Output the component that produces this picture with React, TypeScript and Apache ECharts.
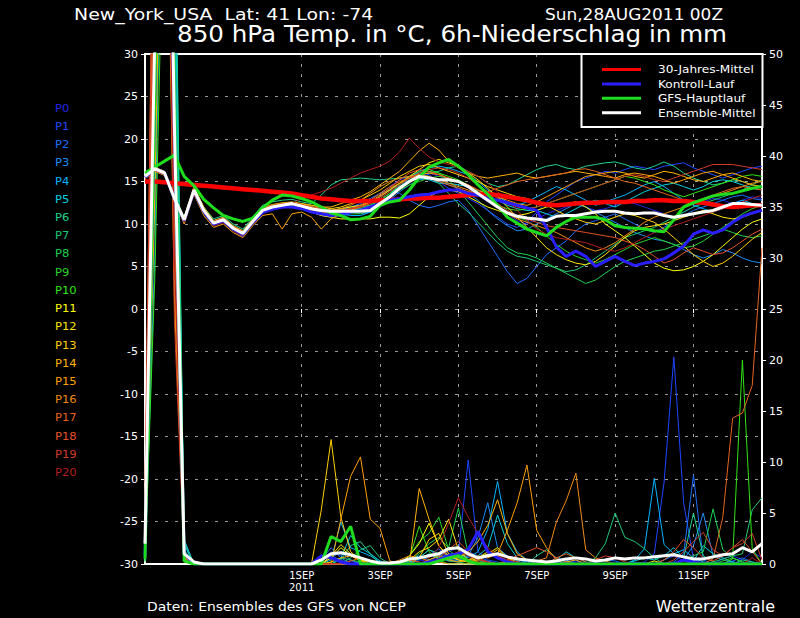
import React, { useEffect, useRef } from 'react';
import * as echarts from 'echarts';

// forecast hours (6-hourly), 28AUG2011 00Z = 0
const HOURS = [0,6,12,18,24,30,36,42,48,54,60,66,72,78,84,90,96,102,108,114,120,126,132,138,144,150,156,162,168,174,180,186,192,198,204,210,216,222,228,234,240,246,252,258,264,270,276,282,288,294,300,306,312,318,324,330,336,342,348,354,360,366,372,378];
const DATE_LABELS: Record<string, string> = { '96': '1SEP\n2011', '144': '3SEP', '192': '5SEP', '240': '7SEP', '288': '9SEP', '336': '11SEP' };

const MEMBER_NAMES = ['P0','P1','P2','P3','P4','P5','P6','P7','P8','P9','P10','P11','P12','P13','P14','P15','P16','P17','P18','P19','P20'];
const MEMBER_COLORS = ['#2424e6','#1e46ff','#1e6eff','#1e8cf5','#00b4ff','#00d2e0','#1ed28c','#1ec878','#1ed250','#2ad22a','#30e614','#ffff00','#ffe600','#ffd000','#ffb400','#ffa000','#f08c14','#e6641e','#e65028','#d23c28','#b41e1e'];

// 850 hPa temperature (°C), members
const T_P0 = [15.4,16.2,15.8,13.2,10.2,13.6,11.2,9.8,10.2,9.2,8.5,10.0,11.2,11.6,11.9,12.0, 11.8,11.4,11.0,10.8,10.9,11.2,11.6,12.4,13.2,14.0,14.6,15.2,15.8,16.0,15.6,15.4, 15.0,14.2,13.4,12.6,12.0,11.2,10.4,10.0,10.6,11.2,11.6,12.0,12.4,12.0,11.6,11.8, 12.2,12.6,12.4,12.0,11.6,11.2,10.8,11.4,12.0,12.6,13.0,12.8,12.4,12.8,13.2,13.0];
const T_P1 = [15.6,16.6,16.2,12.8,10.4,13.8,11.4,10.0,10.6,9.6,8.8,10.4,11.4,11.8,12.0,12.2, 12.0,11.6,11.2,11.0,11.4,11.8,12.2,12.8,13.6,14.4,15.2,15.6,16.0,15.8,15.0,14.2, 13.6,13.0,12.4,11.6,10.8,10.0,9.6,10.2,11.4,12.6,13.4,14.2,15.0,15.4,15.8,16.2, 16.0,16.4,16.8,16.6,16.4,16.8,17.0,17.2,16.6,16.2,15.8,15.4,15.8,16.2,16.6,16.8];
const T_P2 = [15.5,16.4,15.9,13.1,10.6,14.2,11.8,10.2,10.4,9.4,8.7,10.1,11.4,11.8,12.1,12.2, 12.0,11.6,11.2,11.2,11.6,12.0,12.4,13.0,13.6,14.0,13.6,12.8,12.2,11.9,12.2,12.6, 12.8,11.6,9.8,8.0,6.2,4.4,3.0,3.6,5.0,6.4,7.2,8.0,9.2,10.0,10.4,10.8, 11.2,10.6,10.0,9.4,9.0,9.6,10.4,11.0,11.6,12.0,12.4,12.8,13.2,13.4,13.0,12.8];
const T_P3 = [15.6,16.5,16.1,13.0,10.5,14.1,11.6,10.2,10.6,9.6,9.0,10.4,11.8,12.2,12.4,12.5, 12.4,12.0,11.8,11.6,11.6,11.4,11.2,11.4,12.0,12.8,13.8,14.6,15.2,15.4,15.0,14.6, 14.2,13.6,12.8,11.6,10.6,9.8,9.2,9.4,10.0,10.6,11.2,11.8,12.4,12.0,11.4,10.8, 10.2,9.6,9.0,8.6,8.2,8.0,7.6,7.0,6.4,6.0,6.4,7.0,6.6,6.0,5.6,5.4];
const T_P4 = [15.4,16.3,15.9,13.2,10.7,14.0,11.8,10.4,10.8,9.8,9.2,10.6,11.8,12.2,12.4,12.5, 12.2,11.8,11.6,11.4,11.2,11.0,11.0,11.4,12.2,13.4,14.6,15.4,16.2,16.6,16.8,16.6, 16.2,15.8,15.0,14.0,13.2,12.6,12.2,12.6,13.2,13.8,14.4,14.0,13.4,12.8,12.2,12.6, 13.0,13.4,14.0,14.6,15.0,14.4,13.6,12.8,12.2,11.8,11.4,11.8,12.4,12.8,12.4,12.0];
const T_P5 = [15.5,16.5,16.0,13.0,10.4,13.9,11.5,10.0,10.4,9.4,8.8,10.2,11.6,12.0,12.2,12.4, 12.2,11.8,11.4,11.2,11.4,11.6,11.8,12.2,12.8,13.6,14.4,15.0,15.4,15.2,14.8,14.8, 14.6,14.4,14.0,13.4,12.8,12.2,11.8,11.6,11.6,11.2,10.8,11.2,11.8,12.4,12.8,12.4, 12.0,12.6,13.2,13.8,14.2,14.6,14.8,14.4,14.0,14.4,15.0,15.2,15.0,14.6,14.2,14.0];
const T_P6 = [15.6,16.6,16.2,13.4,10.8,14.3,12.0,10.6,11.0,10.0,9.4,10.8,12.2,12.6,12.8,12.9, 12.6,12.4,13.4,14.6,15.2,15.3,15.4,15.3,15.2,15.3,15.4,15.6,15.8,16.0,16.2,16.6, 16.8,16.2,15.6,14.8,14.4,14.6,15.2,15.8,16.4,16.8,17.0,16.6,16.4,16.8,17.0,17.2, 17.3,17.0,16.6,16.4,16.8,17.3,16.8,16.0,15.4,15.0,14.6,14.8,15.2,15.0,14.6,14.4];
const T_P7 = [15.4,16.4,15.9,12.9,10.3,13.8,11.4,9.9,10.3,9.3,8.7,10.1,11.4,11.8,12.0,12.2, 12.0,11.6,11.4,11.2,11.4,11.6,11.8,12.0,12.6,13.4,14.4,15.2,15.8,15.6,14.8,13.6, 12.4,11.4,10.2,9.0,7.8,6.8,6.2,6.0,5.6,5.2,4.8,4.4,4.6,5.2,6.0,6.8, 7.6,8.4,8.8,9.2,9.6,10.2,10.8,11.4,12.0,12.4,12.8,13.2,13.6,14.0,14.6,15.2];
const T_P8 = [15.5,16.5,16.0,13.0,10.5,14.0,11.6,10.2,10.6,9.6,9.0,10.4,11.7,12.1,12.3,12.4, 12.2,11.9,11.7,11.6,11.8,12.0,12.2,12.6,13.2,14.0,14.8,15.6,16.2,16.4,16.0,15.2, 14.0,12.6,11.2,9.8,8.4,7.2,6.6,6.4,6.0,5.4,4.8,4.2,3.6,3.0,3.4,4.2, 5.0,5.6,6.0,6.4,6.8,7.0,7.4,7.8,8.2,8.6,9.0,9.4,9.0,8.6,8.4,8.6];
const T_P9 = [15.6,16.5,16.1,13.1,10.6,14.1,11.7,10.2,10.6,9.7,9.1,10.5,11.8,12.2,12.4,12.5, 12.3,12.0,11.8,11.6,11.4,11.2,11.2,11.6,12.4,13.2,14.0,14.6,15.0,15.4,15.6,15.4, 15.0,14.4,13.6,12.8,12.0,11.2,10.8,10.4,9.6,8.6,7.6,6.8,6.2,5.8,5.4,5.8, 6.4,7.0,7.6,8.0,8.4,8.0,7.6,7.2,7.4,8.0,8.8,9.6,10.4,11.2,11.8,12.2];
const T_P10 = [15.5,16.4,16.0,13.0,10.4,14.0,11.5,10.0,10.4,9.4,8.8,10.2,11.5,11.9,12.1,12.2, 12.0,11.8,11.6,11.4,11.6,11.8,12.0,12.2,12.8,13.6,14.6,15.4,16.0,16.2,16.0,15.6, 15.2,14.6,13.8,13.0,12.2,11.8,11.6,11.8,12.0,12.4,12.8,13.2,13.6,14.0,14.4,14.8, 15.2,15.6,15.4,15.0,14.6,14.0,13.6,13.2,13.6,14.0,14.4,14.8,15.2,15.6,15.8,15.6];
const T_P11 = [15.4,16.3,15.9,12.9,10.4,13.8,11.4,10.0,10.4,9.4,8.8,10.2,11.4,11.8,12.0,12.1, 11.9,11.4,11.0,10.8,10.6,10.6,10.6,10.6,10.8,10.8,10.7,11.2,12.2,13.2,13.8,14.0, 13.8,13.2,12.6,12.0,11.6,11.2,11.0,11.2,11.6,12.0,12.2,12.4,12.6,12.0,11.2,10.0, 9.2,8.4,7.4,6.4,5.4,4.8,4.5,4.6,5.0,5.6,6.4,7.4,8.4,9.4,10.2,10.6];
const T_P12 = [15.6,16.6,16.1,13.2,10.6,14.2,11.8,10.3,10.6,9.7,9.1,10.5,11.8,12.2,12.4,12.5, 12.3,12.0,11.8,11.6,11.8,12.0,12.2,12.6,13.2,14.0,14.8,15.6,16.4,17.2,17.6,17.2, 16.8,16.0,15.2,14.2,13.2,12.0,10.8,9.6,8.4,7.2,6.4,5.8,5.4,5.2,5.6,6.4, 7.4,8.4,9.2,9.6,9.8,10.0,10.4,10.8,11.2,11.6,11.2,10.8,10.6,10.8,11.2,11.6];
const T_P13 = [15.5,16.5,16.0,13.0,10.5,14.1,11.7,10.2,10.5,9.6,9.0,10.4,11.7,12.1,12.4,12.5, 12.4,12.2,12.0,11.8,12.0,12.4,12.8,13.4,14.0,14.8,15.6,16.2,16.8,17.0,16.6,16.2, 15.8,15.4,15.0,14.4,14.0,13.6,13.2,13.0,12.6,12.2,11.6,11.0,10.6,10.2,10.0,10.4, 10.8,11.2,11.0,10.6,10.2,9.4,8.4,7.4,6.4,5.6,5.0,5.4,6.2,7.2,8.2,9.0];
const T_P14 = [15.7,16.7,16.2,13.3,10.8,14.4,12.0,10.4,10.8,9.8,9.2,10.6,11.9,12.3,12.5,12.6, 12.4,12.2,12.0,12.0,12.4,12.8,13.2,13.8,14.6,15.4,16.2,17.4,18.6,19.5,18.7,17.4, 16.6,16.0,15.6,15.4,15.6,15.8,16.0,15.6,15.4,15.6,15.8,16.0,16.2,16.0,15.8,16.0, 16.2,16.0,15.6,15.4,15.8,16.2,16.0,15.6,15.2,15.0,15.4,15.8,16.0,15.6,15.2,15.0];
const T_P15 = [15.3,16.2,15.7,12.7,10.0,13.5,11.0,9.6,10.0,9.0,8.4,9.8,11.0,11.2,9.4,11.2, 11.4,10.8,9.4,10.6,11.2,11.6,12.0,12.6,13.4,14.2,14.8,15.4,15.8,16.0,15.8,15.4, 15.0,14.6,14.0,13.6,13.2,12.8,12.4,12.2,12.6,13.2,13.8,14.4,15.0,15.6,15.8,15.6, 15.4,15.8,16.0,15.8,15.6,15.2,14.8,15.2,15.6,16.0,16.2,15.8,15.4,15.0,14.6,14.4];
const T_P16 = [15.5,16.4,16.0,13.0,10.5,14.0,11.6,10.1,10.5,9.5,8.9,10.3,11.6,12.0,12.2,12.3, 12.2,12.0,11.8,11.6,11.8,12.2,12.8,13.6,14.4,15.0,15.4,15.6,15.8,15.6,15.2,14.8, 14.4,14.0,13.4,12.8,12.0,11.2,10.6,10.2,9.8,9.4,9.0,8.4,7.8,7.2,6.8,7.2, 7.8,8.6,9.4,10.2,10.8,11.2,11.6,12.0,12.4,12.8,13.2,13.6,14.0,14.4,14.8,15.0];
const T_P17 = [15.4,16.4,15.9,12.9,10.3,13.8,11.4,9.9,10.3,9.3,8.7,10.1,11.4,11.8,12.0,12.1, 11.9,11.6,11.4,11.2,11.4,11.8,12.2,12.8,13.6,14.4,15.0,15.4,15.6,15.4,15.0,14.6, 14.2,13.8,13.6,13.8,14.2,14.6,15.0,15.2,15.4,15.6,15.8,16.0,16.4,16.5,16.2,15.8, 15.4,15.0,14.8,14.4,14.0,13.6,13.2,12.8,12.6,13.0,13.4,13.8,14.2,14.4,14.2,14.0];
const T_P18 = [15.5,16.5,16.0,13.0,10.6,14.0,11.6,10.1,10.5,9.5,8.9,10.3,11.6,12.0,12.2,12.3, 12.1,11.8,11.6,11.4,11.6,11.8,12.0,12.4,13.2,14.2,15.2,16.0,16.4,16.2,15.8,15.4, 15.0,14.6,14.0,13.2,12.4,11.6,11.0,10.6,10.2,9.8,9.6,9.4,9.2,9.0,8.8,8.6, 8.4,8.0,7.6,7.0,6.2,5.4,5.8,6.6,7.2,6.8,6.4,6.6,7.2,8.0,8.8,9.4];
const T_P19 = [15.6,16.6,16.1,13.1,10.7,14.2,11.8,10.3,10.7,9.7,9.1,10.5,11.8,12.2,12.4,12.5, 12.3,12.0,11.8,11.6,11.6,11.8,12.0,12.4,13.0,13.8,14.6,15.4,16.0,16.4,16.6,16.4, 16.0,15.4,14.6,13.8,13.0,12.4,12.0,11.8,12.0,12.4,12.8,13.2,13.6,14.0,14.4,14.8, 15.2,15.6,15.8,15.6,15.2,15.0,15.4,15.8,16.2,16.6,17.0,17.0,17.0,16.8,16.6,16.4];
const T_P20 = [15.4,16.3,15.8,12.9,10.2,13.7,11.3,9.8,10.2,9.2,8.6,10.0,11.3,11.7,12.0,12.4, 13.0,13.4,13.8,14.2,14.8,15.4,16.0,16.4,16.8,17.4,18.5,20.1,18.9,17.9,17.3,17.0, 16.7,16.2,15.6,14.8,13.8,12.8,11.6,10.4,9.4,8.8,8.4,8.2,8.0,7.8,7.4,7.0, 6.8,7.2,7.8,8.4,9.0,9.4,9.8,10.2,10.6,11.0,11.4,11.8,12.2,12.6,13.0,13.4];

// 6h precipitation (mm), members
const R_P0 = [0.5,38,90,35,1.2,0,0,0,0,0,0,0,0,0,0,0, 0,0,0.5,1.2,0.8,0.3,0,0,0,0,0.2,0.6,0.4,0.2,0.8,1.2, 1.6,0.8,0.4,0.2,0,0,0,0.3,0,0,0,0.2,0.4,0,0,0, 0,0,0.2,0,0,0.4,0.8,0.3,0,0,0,0.5,0.8,0.4,1.2,0.6];
const R_P1 = [0.8,62,110,48,0.6,0,0,0,0,0,0,0,0,0,0,0, 0,0,0.3,0.8,0.4,0,0,0,0,0,0,0,0.4,0.9,0.6,1.0, 1.0,10.2,1.2,0.4,0.2,0,0,0,0,0,0,0,0.3,0,0,0, 0,0,0,0.2,1.0,8.0,20.3,6.0,0.5,0,0,0,0.2,0,0,0];
const R_P2 = [1.2,45,96,58,1.8,0,0,0,0,0,0,0,0,0,0,0, 0,0,0.4,1.6,0.6,0,0,0,0,0,0,0.3,0.5,0.8,1.5,0.6, 0.4,1.2,0.8,0.3,0,0,0.5,0.2,0,0,0,0,0,0,0.2,0.4, 0.3,0,0,0,0,0,0.2,1.0,8.7,0.4,0,0,0.3,0.6,0.2,0];
const R_P3 = [0.3,30,85,52,0.9,0,0,0,0,0,0,0,0,0,0,0, 0,0,0,0.6,1.2,0.4,0,0,0,0,0,0.2,0.6,1.4,0.8,0.4, 0.3,0.8,2.6,6.0,1.6,0.8,0.3,0,0,0,0.6,0.4,0,0,0,0, 0,0,0,0,0,0,0,0.4,1.8,5.0,0.8,0.4,0.2,0,0,0];
const R_P4 = [1.5,55,104,62,2.4,0,0,0,0,0,0,0,0,0,0,0, 0,0,0,0.4,4.1,1.6,1.2,0.8,0.2,0,0,0.4,0.8,0.4,0.2,0.6, 1.0,0.6,1.2,3.4,8.1,3.0,1.2,0.4,0,0,0,0.3,0,0,0,0, 0,0,0.4,1.5,8.4,1.9,1.0,1.4,0.6,0.2,0,0,0,0,0,0];
const R_P5 = [0.4,40,95,66,2.0,0,0,0,0,0,0,0,0,0,0,0, 0,0,0,0,0.6,2.8,1.6,1.0,0.3,0,0,0.2,0.5,1.0,0.6,0.3, 0.2,0.4,0.8,1.6,4.8,2.0,0.6,0,0,0,0.4,1.2,0.6,0.2,0,0, 0,0,0.3,0.6,0.4,0.8,1.6,0.6,0.3,1.8,1.0,0.6,0.2,0,0,0];
const R_P6 = [2.0,72,115,70,1.4,0,0,0,0,0,0,0,0,0,0,0, 0,0,0,0,0.4,1.8,2.2,1.0,0,0,0,0,0.6,1.4,1.0,0.4, 0.6,1.0,0.4,0,0,0,0,0,0.8,1.4,0.6,0.2,0,0,0,0, 0,0,0,0,0,0.4,1.0,0.6,5.0,0.8,0.2,0,0,0.4,0.2,0];
const R_P7 = [1.0,35,78,55,2.2,0,0,0,0,0,0,0,0,0,0,0, 0,0,0,0,0,0.6,1.4,1.8,0.6,0,0,0,0,0.4,0.8,0.3, 0.2,0,0,0,0,0,0,0,0,0,0,0,0,0,0.6,2.0, 5.0,2.6,2.2,1.5,0.6,0,0,0,0,0,0.2,0.5,0.8,1.0,5.3,6.5];
const R_P8 = [0.6,48,88,44,0.8,0,0,0,0,0,0,0,0,0,0,0, 0,0,0,0.2,0.6,0.4,0.2,0,0,0,0,0.3,1.0,2.0,2.6,1.6, 5.5,1.0,0.4,0,0,0,0,0,0,0,0,0,0,0,0,0, 0,0,0,0,0,0,0,0.3,0.8,1.2,5.4,1.4,0.6,0.2,0,0];
const R_P9 = [1.8,58,102,40,0.5,0,0,0,0,0,0,0,0,0,0,0, 0,0,0,0,0,0,0,0,0,0,0,0.8,2.2,3.0,4.6,1.4, 0.6,0.4,0.2,0,0,0,0,0,0,0,0,0,0,0,0,0, 0,0,0,0,0,0,0,0,0,0,0,0.3,0.6,0.2,0,0];
const R_P10 = [0.2,28,70,38,1.0,0,0,0,0,0,0,0,0,0,0,0, 0,0,0,0,0,0,0,0,0,0,0,0.6,3.7,1.2,0.4,0, 0,0,0,0,0,0,0,0,0,0,0,0,0,0,0,0, 0,0,0,0,0,0,0,0,0,0,0,0,0.5,20.0,1.5,0];
const R_P11 = [1.1,44,92,30,0.4,0,0,0,0,0,0,0,0,0,0,0, 0,0,0,0.6,1.6,0.8,0.4,0,0,0,0,0.8,2.0,4.0,1.8,0.8, 0.4,0.2,0.6,1.2,0.8,0.3,0,0,0,0,0,0,0,0,0,0, 0,0,0,0,0.3,0,0,0,0,0,0,0,0,0,0,0];
const R_P12 = [0.7,52,100,34,0.7,0,0,0,0,0,0,0,0,0,0,0, 0,0,0,0.8,1.9,1.0,0.4,0.2,0,0,0,0.4,1.2,1.6,2.4,4.4, 1.4,0.4,0.6,1.0,1.6,0.6,0.2,0,0,0,0,0,0,0,0,0, 0,0,0,0,0,0,0,0,0,0,0,0,0,0,0,0];
const R_P13 = [2.4,64,118,42,0.3,0,0,0,0,0,0,0,0,0,0,0, 0,0,5.3,12.2,4.6,1.2,0.4,0,0,0,0,0,0.6,2.4,3.0,1.0, 0.4,0.2,0.4,0.8,1.4,0.6,0,0,0,0,0,0,0,0,0,0, 0,0,0,0,0,0,0,0,0,0,0,0,0,0,0,0];
const R_P14 = [0.9,36,84,26,1.1,0,0,0,0,0,0,0,0,0,0,0, 0,0,0,0.2,0.6,0.8,0.3,0,0,0,0,0,7.4,4.4,1.8,0.6, 0.6,1.2,2.2,3.8,6.3,3.0,1.0,0.4,0,0,0,0.2,0.4,0,0,0, 0,0,0,0,0,0,0,0,0,0,0,0,0,0,0,0];
const R_P15 = [3.0,70,112,36,0.6,0,0,0,0,0,0,0,0,0,0,0, 0,0,0,0,4.4,8.6,10.5,4.4,3.5,0.3,0,0,0,0.4,0.8,0.4, 0.2,0.4,0.8,0.6,1.0,3.3,6.0,9.7,3.3,1.6,0.4,0,0,0,0,0, 0,0,0,0,0,0,0,0,0,0,0,0,0,0,0,0];
const R_P16 = [1.6,50,96,28,0.2,0,0,0,0,0,0,0,0,0,0,0, 0,0,0,0,0,0,0,0,0,0,0.4,0.8,0.6,0.3,0.2,0, 0,0,0,0,0,0.2,0.6,0.4,0.3,0.6,4.1,6.2,8.9,1.4,0.6,0.3, 0,0,0,0,0,0,0,0,0,0,0,0,0,0,0,0];
const R_P17 = [4.5,80,120,46,0.9,0,0,0,0,0,0,0,0,0,0,0, 0,0,0,0,0,0.3,0.6,0.3,0,0,0,0,0,0.2,0.4,0.6, 0.8,0.4,0.2,0,0,0,0,0,0,0,0.6,1.0,0.6,0.2,0,0, 0,0,0,0,0,0,0,0,0,0,0.5,4.6,14.3,14.8,17.5,31.0];
const R_P18 = [6.0,66,108,32,0.5,0,0,0,0,0,0,0,0,0,0,0, 0,0,0,0,0,0,0,0,0,0,0.2,0.4,0.2,0,0.6,1.4, 2.2,1.2,0.6,0.2,0,0.4,0.8,1.2,1.6,1.2,0.6,0.2,0,0,0,0, 0,0,0,0,0,0.4,1.2,2.4,1.6,0.6,0.3,0.8,1.6,2.4,1.2,0];
const R_P19 = [8.0,74,96,24,0.3,0,0,0,0,0,0,0,0,0,0,0, 0,0,0,0,0,0,0,0,0,0,0,0,0,0.2,0.4,0.8, 1.2,0.8,0.4,0.2,0,0,0,0,0,0,0,0,0,0,0.4,0.8, 0.6,0.2,0,0,0,0,0.4,1.2,2.2,3.1,1.4,0.8,1.6,2.0,3.0,0.4];
const R_P20 = [5.0,60,90,30,0.8,0,0,0,0,0,0,0,0,0,0,0, 0,0,0,0,0,0,0,0,0,0,0,0,0,0.6,1.6,4.0, 6.5,4.6,3.0,1.6,0.8,0.4,0.2,0,0,0,0,0,0,0,0,0, 0,0,0,0,0,0,0,0,0,0,0,0,0,0,0.6,0];

// special curves
const T_CLIMATE = [15.0,15.0,14.9,14.8,14.7,14.6,14.5,14.4,14.3,14.2,14.1,14.0,13.9,13.8,13.7,13.6, 13.4,13.2,13.0,12.9,12.8,12.7,12.7,12.7,12.8,12.8,12.9,13.0,13.0,13.1,13.1,13.2, 13.3,13.4,13.5,13.5,13.4,13.2,13.0,12.8,12.5,12.3,12.2,12.3,12.4,12.5,12.5,12.6, 12.6,12.6,12.7,12.7,12.8,12.8,12.7,12.7,12.6,12.5,12.3,12.1,12.0,12.1,12.2,12.2];
const T_CONTROL = [15.5,16.5,16.0,13.0,10.4,13.9,11.5,10.0,10.4,9.4,8.8,10.2,11.4,11.8,12.0,12.0, 11.8,11.4,11.2,11.0,11.2,11.4,11.6,12.0,12.4,12.8,13.0,13.2,13.4,13.5,13.8,14.0, 14.0,13.6,13.4,13.0,12.8,12.5,12.2,11.9,11.6,9.6,7.3,6.2,6.8,6.2,5.0,5.6, 6.2,5.6,5.1,5.4,5.6,5.9,6.6,7.4,8.8,9.3,8.9,9.3,10.2,10.9,11.3,11.6];
const T_GFS = [16.0,16.7,17.4,18.1,15.6,14.5,12.9,11.9,11.0,10.6,10.3,10.7,11.9,12.8,13.4,13.3, 13.0,12.6,12.0,11.3,11.0,10.5,10.6,10.9,12.2,12.6,12.8,14.0,15.5,16.7,17.2,17.6, 16.8,15.8,14.6,13.5,12.2,10.8,10.1,9.4,9.0,8.6,9.6,10.3,10.8,10.8,10.8,10.5, 9.8,9.6,9.5,9.4,9.2,9.1,10.5,12.0,12.5,12.9,13.3,13.5,13.6,13.9,14.2,14.4];
const T_MEAN = [15.6,16.5,16.0,13.0,10.5,14.0,11.6,10.1,10.5,9.5,8.9,10.3,11.6,12.0,12.2,12.4, 12.1,11.8,11.6,11.5,11.5,11.5,11.5,11.6,12.4,13.2,14.2,15.0,15.6,15.4,15.2,15.2, 15.0,14.4,13.6,12.8,12.0,11.3,10.9,10.7,10.6,10.4,10.9,11.0,11.0,11.2,11.4,11.5, 11.5,11.3,11.2,11.3,11.3,11.0,10.8,11.0,11.2,11.4,11.6,12.0,12.4,12.4,12.3,12.2];
const R_CONTROL = [0.8,46,98,42,1.0,0,0,0,0,0,0,0,0,0,0,0, 0,0,0.8,0.6,0.2,0,0,0,0,0,0,0,0,0.2,0.4,0.8, 1.0,1.4,3.2,1.2,0.6,0.2,0,0,0,0,0,0,0,0,0,0, 0,0,0,0,0,0,0,0.4,0.2,0,0,0,0,0,0,0];
const R_GFS = [0.5,46,100,45,0.3,0,0,0,0,0,0,0,0,0,0,0, 0,0,0,2.7,2.2,3.7,0,0,0,0,0,0,0,0,0.3,0.6, 0.8,0.3,0,0,0,0,0,0,0,0,0,0,0,0,0,0, 0,0,0,0,0,0,0,0,0,0,0,0,0,0,0,0];
const R_MEAN = [2.0,52,98,43,1.0,0.2,0,0,0,0,0,0,0,0,0,0, 0,0,0.4,1.0,1.1,0.9,0.6,0.3,0.1,0.1,0.2,0.5,0.6,0.8,1.0,1.5, 1.6,1.0,0.6,0.8,1.0,0.7,0.5,0.4,0.3,0.2,0.3,0.5,0.6,0.5,0.3,0.4, 0.6,0.5,0.6,0.6,0.7,0.8,0.9,0.7,0.5,0.5,0.7,0.9,1.0,1.6,1.2,2.0];

const T_MEMBERS = [T_P0,T_P1,T_P2,T_P3,T_P4,T_P5,T_P6,T_P7,T_P8,T_P9,T_P10,T_P11,T_P12,T_P13,T_P14,T_P15,T_P16,T_P17,T_P18,T_P19,T_P20];
const R_MEMBERS = [R_P0,R_P1,R_P2,R_P3,R_P4,R_P5,R_P6,R_P7,R_P8,R_P9,R_P10,R_P11,R_P12,R_P13,R_P14,R_P15,R_P16,R_P17,R_P18,R_P19,R_P20];

const LEGEND_ITEMS = [
  { name: '30-Jahres-Mittel', color: '#ff0000' },
  { name: 'Kontroll-Lauf', color: '#2a1eff' },
  { name: 'GFS-Hauptlauf', color: '#1edc1e' },
  { name: 'Ensemble-Mittel', color: '#ffffff' },
];

const FONT = '"DejaVu Sans", sans-serif';

export default function App() {
  const ref = useRef<HTMLDivElement>(null);
  useEffect(() => {
    if (!ref.current) return;
    const chart = echarts.init(ref.current, undefined, { renderer: 'svg' });
    const isDateTick = (_i: number, v: any) => DATE_LABELS[String(v)] !== undefined;
    const line = (name: string, data: number[], color: string, width: number, yAxisIndex: number, z: number) => ({
      name, type: 'line', data, yAxisIndex, z, silent: true, showSymbol: false, symbol: 'none',
      lineStyle: { color, width }, itemStyle: { color }, clip: true,
    });
    const series: any[] = [];
    MEMBER_NAMES.forEach((n, i) => {
      series.push(line(n + ' T', T_MEMBERS[i], MEMBER_COLORS[i], 1, 0, 2));
      series.push(line(n + ' RR', R_MEMBERS[i], MEMBER_COLORS[i], 1, 1, 2));
    });
    series.push(line('30-Jahres-Mittel', T_CLIMATE, '#ff0000', 4.5, 0, 3));
    series.push(line('Kontroll-Lauf T', T_CONTROL, '#2a1eff', 3, 0, 4));
    series.push(line('Kontroll-Lauf RR', R_CONTROL, '#2a1eff', 3, 1, 4));
    series.push(line('GFS-Hauptlauf T', T_GFS, '#1edc1e', 3, 0, 5));
    series.push(line('GFS-Hauptlauf RR', R_GFS, '#1edc1e', 3, 1, 5));
    series.push(line('Ensemble-Mittel T', T_MEAN, '#ffffff', 3, 0, 6));
    series.push(line('Ensemble-Mittel RR', R_MEAN, '#ffffff', 3, 1, 6));

    const txt = (text: string, x: number, y: number, size: number, sx: number, align: string, fill = '#fff', z = 10) => ({
      type: 'text', x, y, z, scaleX: sx,
      style: { text, fill, font: size + 'px ' + FONT, align, verticalAlign: 'middle' },
    });
    const graphics: any[] = [
      { type: 'rect', z: 1, shape: { x: 145, y: 54, width: 617, height: 510 }, style: { fill: 'none', stroke: '#ffffff', lineWidth: 2 } },
      txt('New_York_USA  Lat: 41 Lon: -74', 74, 14.5, 15, 1.26, 'left'),
      txt('Sun,28AUG2011 00Z', 545, 14.5, 15, 1.13, 'left'),
      txt('850 hPa Temp. in °C, 6h-Niederschlag in mm', 177, 34.5, 23, 1.07, 'left'),
      txt('Daten: Ensembles des GFS von NCEP', 147, 607, 13, 1.07, 'left'),
      txt('Wetterzentrale', 775, 607, 15, 1.07, 'right'),
      { type: 'rect', z: 100, shape: { x: 581.5, y: 54, width: 181, height: 73 }, style: { fill: '#000', stroke: '#fff', lineWidth: 2 } },
    ];
    LEGEND_ITEMS.forEach((it, i) => {
      const y = 69.5 + i * 14.4;
      graphics.push({ type: 'line', z: 101, shape: { x1: 602, y1: y, x2: 641, y2: y }, style: { stroke: it.color, lineWidth: 3 } });
      graphics.push(txt(it.name, 658, y, 11, 1.1, 'left', '#fff', 101));
    });
    MEMBER_NAMES.forEach((n, i) => {
      graphics.push(txt(n, 55, 108.3 + i * 18.22, 11, 1.05, 'left', MEMBER_COLORS[i], 10));
    });

    chart.setOption({
      animation: false,
      backgroundColor: '#000000',
      grid: { left: 145, top: 54, width: 617, height: 510, containLabel: false },
      xAxis: {
        type: 'category', data: HOURS.map(String), boundaryGap: false,
        axisLine: { show: false },
        axisTick: { show: true, interval: isDateTick, length: 4, lineStyle: { color: '#fff' } },
        axisLabel: { interval: isDateTick, formatter: (v: string) => DATE_LABELS[v] ?? '', color: '#fff', fontSize: 10, fontFamily: FONT, lineHeight: 12, margin: 5 },
        splitLine: { show: true, interval: isDateTick, lineStyle: { color: '#9a9a9a', type: [3, 7], width: 1 } },
      },
      yAxis: [
        {
          type: 'value', min: -30, max: 30, interval: 5, position: 'left',
          axisLine: { show: false },
          axisTick: { show: true, length: 4, lineStyle: { color: '#fff' } },
          axisLabel: { color: '#fff', fontSize: 11, fontFamily: FONT, margin: 7 },
          splitLine: { show: true, lineStyle: { color: '#9a9a9a', type: [3, 7], width: 1 } },
        },
        {
          type: 'value', min: 0, max: 50, interval: 5, position: 'right',
          axisLine: { show: false },
          axisTick: { show: true, length: 4, lineStyle: { color: '#fff' } },
          axisLabel: { color: '#fff', fontSize: 11, fontFamily: FONT, margin: 7 },
          splitLine: { show: false },
        },
      ],
      series,
      graphic: graphics,
    });
    return () => chart.dispose();
  }, []);
  return <div ref={ref} style={{ position: 'absolute', left: 0, top: 0, width: 800, height: 618, background: '#000' }} />;
}
